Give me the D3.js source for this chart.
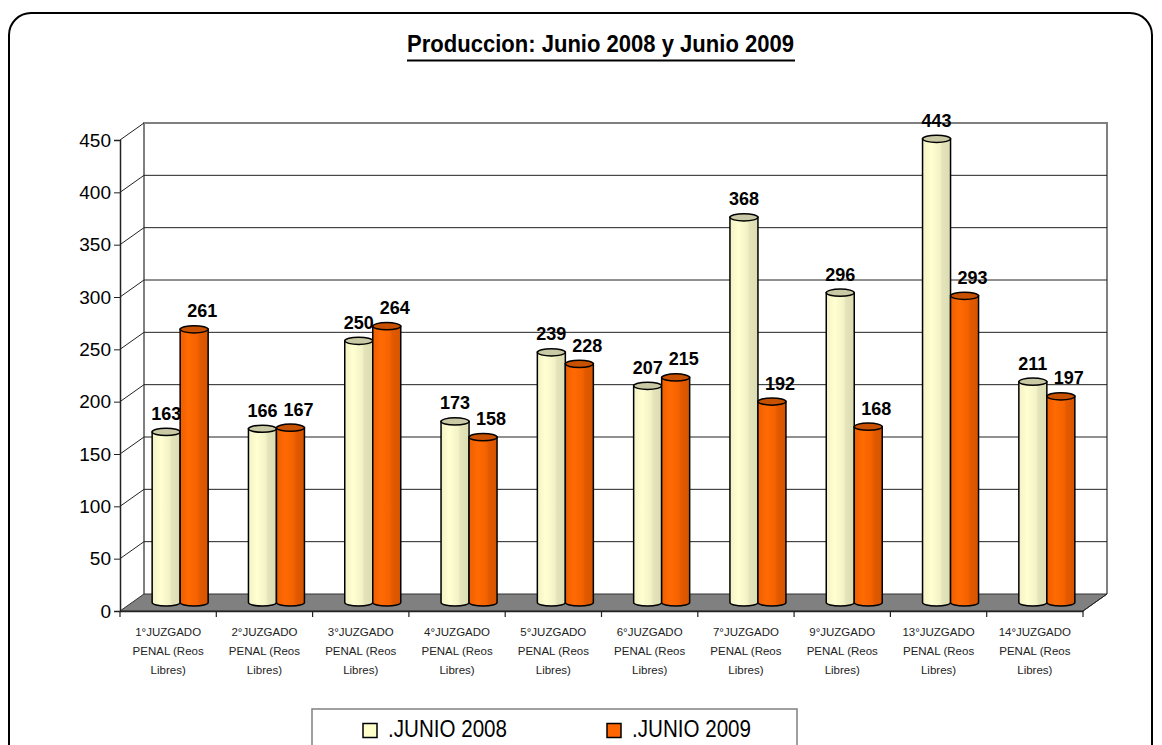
<!DOCTYPE html>
<html>
<head>
<meta charset="utf-8">
<script src="https://cdn.jsdelivr.net/npm/d3@7"></script>
<style>
  body { margin: 0; background: #fff; }
  svg { display: block; font-family: "Liberation Sans", Arial, sans-serif; }
</style>
</head>
<body>
<div id="vis"></div>
<script>
// data
const categories = ["1°JUZGADO", "2°JUZGADO", "3°JUZGADO", "4°JUZGADO", "5°JUZGADO",
  "6°JUZGADO", "7°JUZGADO", "9°JUZGADO", "13°JUZGADO", "14°JUZGADO"];
const seriesNames = [".JUNIO 2008", ".JUNIO 2009"];
const junio2008 = [163, 166, 250, 173, 239, 207, 368, 296, 443, 211];
const junio2009 = [261, 167, 264, 158, 228, 215, 192, 168, 293, 197];
const yTicks = [0, 50, 100, 150, 200, 250, 300, 350, 400, 450];

const width = 1162, height = 745;
const plot = { left: 120, right: 1083, top: 140, bottom: 611 };
const depth = { dx: 24, dy: -17 };

const svg = d3.select("#vis").append("svg")
  .attr("width", width)
  .attr("height", height);

// outer rounded frame
svg.append("rect")
  .attr("x", 9).attr("y", 13)
  .attr("width", 1143).attr("height", 760)
  .attr("rx", 22).attr("ry", 22)
  .attr("fill", "none")
  .attr("stroke", "#000")
  .attr("stroke-width", 2);

// title (narrow bold face, squeezed to the reference width)
svg.append("text")
  .attr("x", 407).attr("y", 52)
  .attr("font-weight", "bold")
  .attr("font-size", 23.5)
  .attr("textLength", 387)
  .attr("lengthAdjust", "spacingAndGlyphs")
  .text("Produccion: Junio 2008 y Junio 2009");
svg.append("line")
  .attr("x1", 407).attr("x2", 795)
  .attr("y1", 60.5).attr("y2", 60.5)
  .attr("stroke", "#000").attr("stroke-width", 2);

const y = d3.scaleLinear().domain([0, 450]).range([plot.bottom, plot.top]);
const x0 = d3.scaleBand().domain(categories).range([plot.left, plot.right]);
const x1 = d3.scaleBand().domain(seriesNames).range([0, 56]);

// back wall + side wall
const g = svg.append("g");
g.append("path")
  .attr("d", `M${plot.left + depth.dx},${y(0) + depth.dy} L${plot.left + depth.dx},${y(450) + depth.dy}
    L${plot.right + depth.dx},${y(450) + depth.dy} L${plot.right + depth.dx},${y(0) + depth.dy}`)
  .attr("fill", "none").attr("stroke", "#808080").attr("stroke-width", 2);

yTicks.filter(d => d > 0).forEach(d => {
  g.append("line")
    .attr("x1", plot.left + depth.dx).attr("x2", plot.right + depth.dx)
    .attr("y1", y(d) + depth.dy).attr("y2", y(d) + depth.dy)
    .attr("stroke", d === 450 ? "#808080" : "#222").attr("stroke-width", d === 450 ? 2 : 1);
  g.append("line")
    .attr("x1", plot.left).attr("x2", plot.left + depth.dx)
    .attr("y1", y(d)).attr("y2", y(d) + depth.dy)
    .attr("stroke", "#222").attr("stroke-width", 1);
});

// floor
g.append("path")
  .attr("d", `M${plot.left},${plot.bottom} L${plot.left + depth.dx},${plot.bottom + depth.dy}
    L${plot.right + depth.dx},${plot.bottom + depth.dy} L${plot.right},${plot.bottom} Z`)
  .attr("fill", "#808080").attr("stroke", "#333").attr("stroke-width", 1);

// axes
const yAxis = svg.append("g")
  .attr("transform", `translate(${plot.left},0)`)
  .call(d3.axisLeft(y).tickValues(yTicks).tickSize(6).tickPadding(3));
yAxis.select(".domain").attr("stroke", "#222").attr("stroke-width", 1.5);
yAxis.selectAll(".tick line").attr("stroke", "#222");
yAxis.selectAll(".tick text")
  .attr("font-family", "'Liberation Sans', Arial, sans-serif")
  .attr("font-size", 19).attr("fill", "#000");

const xAxis = svg.append("g")
  .attr("transform", `translate(0,${plot.bottom})`)
  .call(d3.axisBottom(x0).tickSize(0).tickFormat(""));
xAxis.select(".domain").attr("stroke", "#222").attr("stroke-width", 1.5);
xAxis.selectAll(".tick").remove();

const bounds = d3.range(categories.length + 1).map(i => plot.left + i * x0.step());
svg.append("g").selectAll("line").data(bounds).join("line")
  .attr("x1", d => d).attr("x2", d => d)
  .attr("y1", plot.bottom).attr("y2", plot.bottom + 6)
  .attr("stroke", "#222").attr("stroke-width", 1.2);
svg.append("line")
  .attr("x1", plot.right).attr("x2", plot.right + depth.dx)
  .attr("y1", plot.bottom).attr("y2", plot.bottom + depth.dy)
  .attr("stroke", "#222");

// category labels
const labelG = svg.append("g")
  .attr("font-size", 11.5)
  .attr("fill", "#222")
  .attr("text-anchor", "middle");
categories.forEach(c => {
  const cx = x0(c) + x0.bandwidth() / 2;
  const t = labelG.append("text").attr("x", cx).attr("y", 636);
  [c, "PENAL (Reos", "Libres)"].forEach((line, i) => {
    t.append("tspan").attr("x", cx).attr("dy", i === 0 ? 0 : 19).text(line);
  });
});

// gradients
const defs = svg.append("defs");
const gradients = [
  { id: "g2008", stops: [[0, "#F2F2C4"], [0.3, "#FFFFD2"], [0.62, "#F2F2C6"], [0.7, "#E4E4BA"], [1, "#DCDCB2"]], top: "#C9C9A6" },
  { id: "g2009", stops: [[0, "#EE5E00"], [0.3, "#FF6A02"], [0.62, "#F46200"], [0.7, "#E25A00"], [1, "#D65400"]], top: "#C75100" }
];
gradients.forEach(gr => {
  const lg = defs.append("linearGradient").attr("id", gr.id)
    .attr("x1", "0%").attr("x2", "100%").attr("y1", "0%").attr("y2", "0%");
  gr.stops.forEach(s => lg.append("stop").attr("offset", s[0]).attr("stop-color", s[1]));
});

// bars (cylinders)
const bars = [];
categories.forEach((c, i) => {
  [junio2008[i], junio2009[i]].forEach((v, s) => bars.push({ c, v, s }));
});
const rx = x1.bandwidth() / 2, ry = 3.6;
const offX = depth.dx / 2 + (x0.bandwidth() - 56) / 2, offY = depth.dy / 2;
const labelShift = [0, 8]; // excel nudges the second series' labels to the right

const barG = svg.append("g");
bars.forEach(b => {
  const left = x0(b.c) + offX + x1(seriesNames[b.s]);
  const right = left + x1.bandwidth();
  const top = y(b.v) + offY;
  const bottom = y(0) + offY;
  barG.append("path")
    .attr("d", `M${left},${top} L${left},${bottom} A${rx},${ry} 0 0 0 ${right},${bottom} L${right},${top} Z`)
    .attr("fill", `url(#${gradients[b.s].id})`)
    .attr("stroke", "#000").attr("stroke-width", 1.5);
  barG.append("ellipse")
    .attr("cx", left + rx).attr("cy", top)
    .attr("rx", rx).attr("ry", ry)
    .attr("fill", gradients[b.s].top)
    .attr("stroke", "#000").attr("stroke-width", 1.5);
  barG.append("text")
    .attr("x", left + rx + labelShift[b.s]).attr("y", top - 12)
    .attr("text-anchor", "middle")
    .attr("font-weight", "bold")
    .attr("font-size", 18)
    .attr("fill", "#000")
    .text(b.v);
});

// legend
const leg = svg.append("g");
leg.append("rect")
  .attr("x", 312).attr("y", 709).attr("width", 485).attr("height", 60)
  .attr("fill", "#fff").attr("stroke", "#808080").attr("stroke-width", 1.5);
const legX = [363, 607];
seriesNames.forEach((n, i) => {
  leg.append("rect")
    .attr("x", legX[i]).attr("y", 723.5).attr("width", 14).attr("height", 14)
    .attr("fill", i === 0 ? "#FFFFCC" : "#FF6600")
    .attr("stroke", "#000").attr("stroke-width", 1.5);
  leg.append("text")
    .attr("x", legX[i] + 25).attr("y", 737)
    .attr("font-size", 24)
    .attr("textLength", 119)
    .attr("lengthAdjust", "spacingAndGlyphs")
    .attr("fill", "#000")
    .text(n);
});
</script>
</body>
</html>
